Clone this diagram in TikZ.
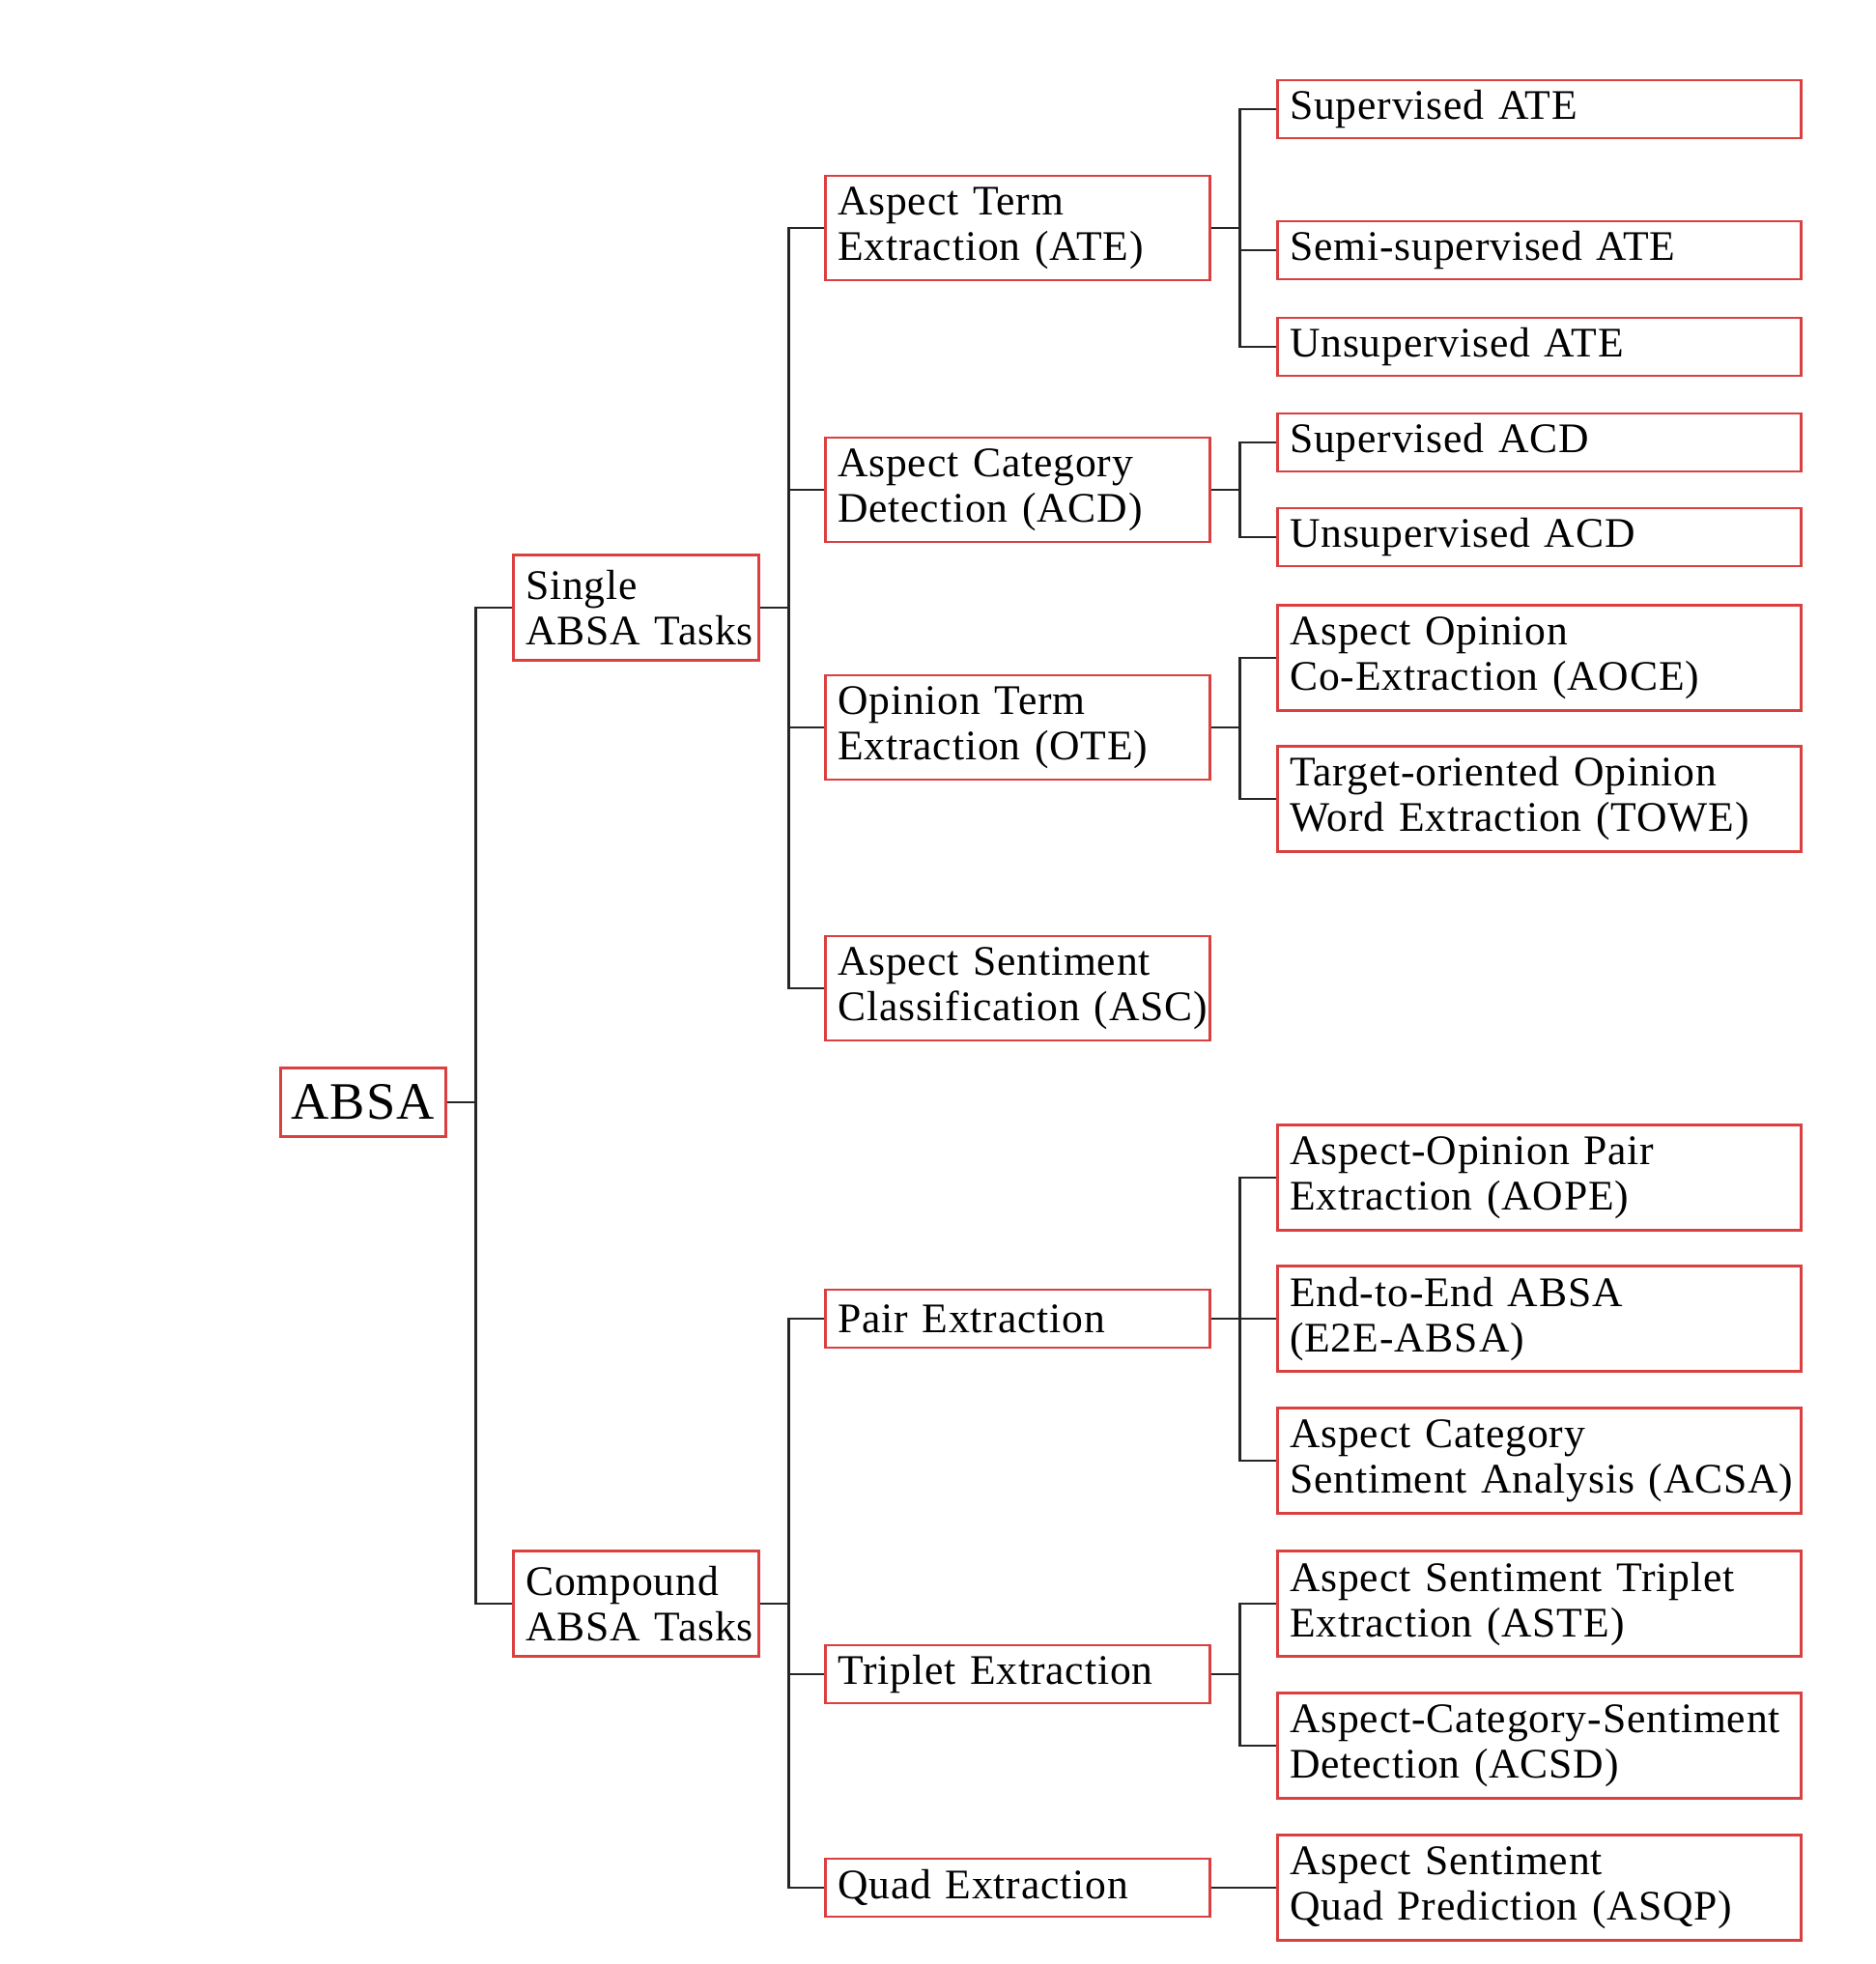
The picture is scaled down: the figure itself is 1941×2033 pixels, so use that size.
\documentclass[tikz,border=0pt]{standalone}
\usepackage{fontspec}
\setmainfont{Liberation Serif}[LetterSpace=2.0,WordSpace=1.15]
\definecolor{boxred}{RGB}{218,64,64}
\hyphenpenalty=10000
\exhyphenpenalty=10000
\begin{document}
\begin{tikzpicture}[x=0.25pt,y=-0.25pt,
  box/.style={draw=boxred,line width=0.65pt,rectangle,anchor=west,inner xsep=3.2pt,inner ysep=0pt,align=left,font=\fontsize{10.9}{11.75}\selectfont},
  rootbox/.style={draw=boxred,line width=0.65pt,rectangle,anchor=west,inner sep=0pt,minimum width=42.75pt,minimum height=17.75pt,font=\fontsize{13.6}{16}\selectfont},
  lvone/.style={box,text width=57.1pt,minimum height=27.25pt},
  lvtwo/.style={box,text width=93.1pt,minimum height=27pt},
  lvtwoone/.style={box,text width=93.1pt,minimum height=15pt},
  leaf/.style={box,text width=129.1pt,minimum height=27.25pt},
  leafone/.style={box,text width=129.1pt,minimum height=15pt},
  conn/.style={draw=black!85,line width=0.6pt}
]
\useasboundingbox (0,0) rectangle (1941,2033);

% root
\node[rootbox] (absa) at (289,1141) {ABSA};

% level 1
\node[lvone] (single) at (530,629) {Single\\ \mbox{ABSA~Tasks}};
\node[lvone] (compound) at (530,1660) {Compound\\ \mbox{ABSA~Tasks}};

% level 2
\node[lvtwo] (ate) at (853,236) {Aspect~Term\\ \mbox{Extraction~(ATE)}};
\node[lvtwo] (acd) at (853,507) {Aspect~Category\\ \mbox{Detection~(ACD)}};
\node[lvtwo] (ote) at (853,753) {Opinion~Term\\ \mbox{Extraction~(OTE)}};
\node[lvtwo] (asc) at (853,1023) {\mbox{Aspect~Sentiment}\\ \mbox{Classification~(ASC)}};
\node[lvtwoone] (pair) at (853,1365) {Pair~Extraction};
\node[lvtwoone] (triplet) at (853,1733) {Triplet~Extraction};
\node[lvtwoone] (quad) at (853,1954) {Quad~Extraction};

% leaves
\node[leafone] (supate) at (1321,113) {Supervised~ATE};
\node[leafone] (semiate) at (1321,259) {\mbox{Semi-supervised~ATE}};
\node[leafone] (unsupate) at (1321,359) {Unsupervised~ATE};
\node[leafone] (supacd) at (1321,458) {Supervised~ACD};
\node[leafone] (unsupacd) at (1321,556) {Unsupervised~ACD};
\node[leaf] (aoce) at (1321,681) {Aspect~Opinion\\ \mbox{Co-Extraction~(AOCE)}};
\node[leaf] (towe) at (1321,827) {\mbox{Target-oriented~Opinion}\\ \mbox{Word~Extraction~(TOWE)}};
\node[leaf] (aope) at (1321,1219) {\mbox{Aspect-Opinion~Pair}\\ Extraction~(AOPE)};
\node[leaf] (e2e) at (1321,1365) {\mbox{End-to-End~ABSA}\\ \mbox{(E2E-ABSA)}};
\node[leaf] (acsa) at (1321,1512) {Aspect~Category\\ \mbox{Sentiment~Analysis~(ACSA)}};
\node[leaf] (aste) at (1321,1660) {Aspect~Sentiment~Triplet\\ Extraction~(ASTE)};
\node[leaf] (acsd) at (1321,1807) {\mbox{Aspect-Category-Sentiment}\\ Detection~(ACSD)};
\node[leaf] (asqp) at (1321,1954) {Aspect~Sentiment\\ \mbox{Quad~Prediction~(ASQP)}};

% connectors
\foreach \p/\c in {absa/single,absa/compound,
  single/ate,single/acd,single/ote,single/asc,
  compound/pair,compound/triplet,compound/quad,
  ate/supate,ate/semiate,ate/unsupate,
  acd/supacd,acd/unsupacd,
  ote/aoce,ote/towe,
  pair/aope,pair/e2e,pair/acsa,
  triplet/aste,triplet/acsd,
  quad/asqp}
  \draw[conn] (\p.east) -- ++(7.5pt,0) |- (\c.west);
\end{tikzpicture}
\end{document}
